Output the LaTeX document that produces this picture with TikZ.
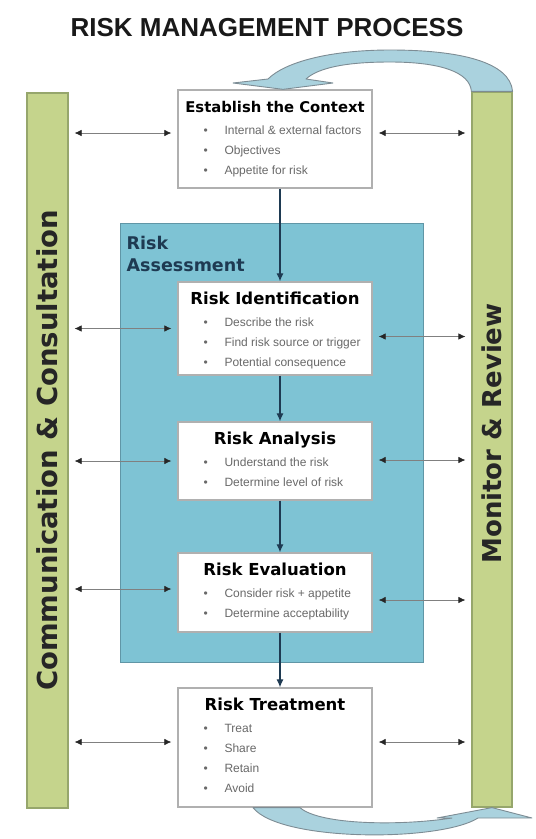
\documentclass[tikz,border=0pt]{standalone}
\usepackage{fontspec}
\setmainfont{Liberation Sans}
\newfontfamily\headfont{DejaVu Sans}
\usepackage{tikz}
\usetikzlibrary{arrows.meta}
\usetikzlibrary{calc}

\definecolor{barGreen}{RGB}{197,212,140}
\definecolor{barEdge}{RGB}{150,166,108}
\definecolor{assessBlue}{RGB}{126,195,212}
\definecolor{assessEdge}{RGB}{96,150,166}
\definecolor{loopBlue}{RGB}{170,210,222}
\definecolor{loopEdge}{RGB}{125,140,148}
\definecolor{boxEdge}{RGB}{176,176,176}
\definecolor{navy}{RGB}{30,58,82}
\definecolor{itemGray}{RGB}{105,105,105}

\tikzset{
	bar/.style={rectangle, draw=barEdge, fill=barGreen, line width=1.2pt, minimum width=40pt, minimum height=715pt, inner sep=0pt},
	bartext/.style={rotate=90, font=\headfont\bfseries\fontsize{#1}{28}\selectfont, text=black!85, inner sep=0pt},
	stepbox/.style={rectangle, draw=boxEdge, fill=white, line width=1.3pt, minimum width=194pt, inner sep=0pt},
	ttl/.style={font=\headfont\bfseries\fontsize{#1}{18}\selectfont, inner sep=0pt, anchor=base},
	item/.style={font=\fontsize{12}{14}\selectfont, text=itemGray, inner sep=0pt, anchor=base west},
	twoway/.style={draw=black!50, line width=0.7pt, {Latex[length=7pt,width=6.5pt,color=black!85]}-{Latex[length=7pt,width=6.5pt,color=black!85]}, shorten <=6pt, shorten >=6pt},
	flow/.style={draw=navy, line width=1.2pt, -{Latex[length=8pt,width=7pt]}},
	loop/.style={fill=loopBlue, draw=loopEdge, line width=0.9pt, line join=round}
}

\begin{document}
\begin{tikzpicture}[x=1pt, y=-1pt]
	\useasboundingbox (0,0) rectangle (536,839);
	
	\node (head) [font=\bfseries\fontsize{26}{30}\selectfont, text=black!90] at (267,28) {RISK MANAGEMENT PROCESS};
	
	% side bars
	\node (ccbar) [bar, minimum width=41pt] at (47.5,450.5) {};
	\node (mrbar) [bar] at (492,449.5) {};
	\node (cclab) [bartext=27.5] at (ccbar) {Communication \& Consultation};
	\node (mrlab) [bartext=26] at ([yshift=16pt]mrbar.center) {Monitor \& Review};
	
	% risk assessment area
	\node (assess) [rectangle, fill=assessBlue, draw=assessEdge, line width=1pt, minimum width=303pt, minimum height=439pt] at (271.5,442.5) {};
	\node (assesslab) [anchor=north west, align=left, text=navy, font=\headfont\bfseries\fontsize{17.5}{22}\selectfont, inner sep=0pt] at ([xshift=7pt,yshift=-13pt]assess.north west) {Risk\\Assessment};
	
	% steps
	\foreach \b/\y/\h in {est/139/98, rid/328.5/93, ran/461/78, rev/592.5/79, rtr/747.5/119}
		\node (\b) [stepbox, minimum height=\h pt] at (275,\y) {};
	
	\foreach \b/\t/\s in {est/Establish the Context/14.8, rid/Risk Identification/16.5, ran/Risk Analysis/16.5, rev/Risk Evaluation/16.5, rtr/Risk Treatment/16.5}
		\node (\b-t) [ttl=\s] at ([yshift=-23pt]\b.north) {\t};
	
	\foreach \b/\list in {est/{Internal \& external factors,Objectives,Appetite for risk},
		rid/{Describe the risk,Find risk source or trigger,Potential consequence},
		ran/{Understand the risk,Determine level of risk},
		rev/{Consider risk + appetite,Determine acceptability},
		rtr/{Treat,Share,Retain,Avoid}} {
		\foreach \t [count=\k] in \list {
			\node (\b-d\k) [item] at ([xshift=26pt, yshift={-(25pt+20pt*\k)}]\b.north west) {\textbullet};
			\node (\b-i\k) [item] at ([xshift=47pt, yshift={-(25pt+20pt*\k)}]\b.north west) {\t};
		}
	}
	
	% links to the side bars
	\foreach \b/\l/\r in {est/6/6, rid/0/-8, ran/0/1, rev/3.5/-7.5, rtr/5.5/5.5} {
		\draw [twoway] ([yshift=\l pt]\b.west -| ccbar.east) -- ([yshift=\l pt]\b.west);
		\draw [twoway] ([yshift=\r pt]\b.east) -- ([yshift=\r pt]\b.east -| mrbar.west);
	}
	
	\foreach \a/\b in {est/rid, rid/ran, ran/rev, rev/rtr}
		\draw [flow] ([xshift=5pt]\a.south) -- ([xshift=5pt]\b.north);
	
	% loop arrows
	\draw [loop] (mrbar.north west) -- (mrbar.north east) .. controls (510,62) and (460,50) .. (390,50) .. controls (330,50) and (285,62) .. (268,79) -- (233,83) -- ([xshift=8pt]est.north) -- (333,83) -- (306,79) .. controls (318,68) and (345,62) .. (390,62) .. controls (440,62) and (470,72) .. (mrbar.north west) -- cycle;
	\draw [loop] ([xshift=-22pt]rtr.south) -- ([xshift=25pt]rtr.south) .. controls (320,825) and (400,826) .. (452,818) -- (437,818) -- (mrbar.south) -- (532,818) -- (478,818) .. controls (440,842) and (280,842) .. ([xshift=-22pt]rtr.south) -- cycle;
	
\end{tikzpicture}
\end{document}
